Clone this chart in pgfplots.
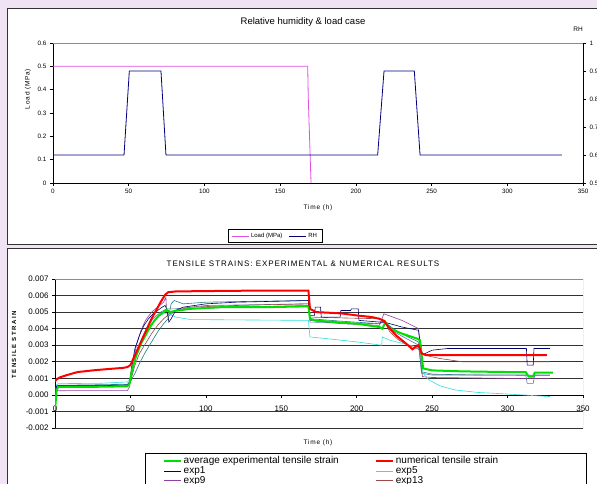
\documentclass[border=0pt]{standalone}
\usepackage{pgfplots}
\pgfplotsset{compat=1.18}
\usepackage{fontspec}
\setmainfont{Liberation Sans}
\newfontfamily\spaced[LetterSpace=12]{Liberation Sans}
\newfontfamily\widespaced[LetterSpace=25]{Liberation Sans}
\definecolor{panelbg}{HTML}{F0E4F4}
\definecolor{loadmag}{HTML}{E050E0}
\definecolor{rhnavy}{HTML}{000080}
\definecolor{avggreen}{HTML}{00E000}
\definecolor{numred}{HTML}{FF0000}
\definecolor{expone}{HTML}{000070}
\definecolor{expfive}{HTML}{30E0E0}
\definecolor{expnine}{HTML}{9040A0}
\definecolor{expthirteen}{HTML}{A04848}
\definecolor{expteal}{HTML}{208080}
\definecolor{expsteel}{HTML}{5878A8}
\begin{document}
\begin{tikzpicture}[x=1pt,y=1pt]
\path[use as bounding box] (0,0) rectangle (597,484);
\clip (0,0) rectangle (597,484);
\fill[panelbg] (0,0) rectangle (597,484);
% chart panels
\filldraw[fill=white,draw=black!80,line width=0.9pt] (7.5,240) rectangle (605,476);
\filldraw[fill=white,draw=black!80,line width=0.9pt] (7.5,-20) rectangle (605,236);

% ---------------- load case and relative humidity ----------------
\begin{axis}[
  at={(53pt,301pt)}, anchor=south west, scale only axis,
  width=530pt, height=140pt,
  xmin=0, xmax=350, ymin=0, ymax=0.6,
  axis x line*=bottom, axis y line*=left,
  xtick={0,50,100,150,200,250,300,350},
  ytick={0,0.1,0.2,0.3,0.4,0.5,0.6},
  tick align=outside, major tick length=3pt,
  tick style={black, line width=0.6pt},
  axis line style={black, line width=0.7pt},
  tick label style={font=\fontsize{6.3}{7}\selectfont},
  /pgf/number format/assume math mode=true,
  legend columns=2,
  legend style={at={(0.419,-0.379)}, anchor=center, draw=black, line width=0.6pt,
    font=\fontsize{6}{7}\selectfont, inner xsep=3pt, inner ysep=1.5pt,
    /tikz/every even column/.append style={column sep=4pt}},
]
\addplot[loadmag, line width=0.8pt] coordinates {
  (0,0.5) (168.2,0.5) (168.6,0.36) (170.4,0)
};
\addlegendentry{Load (MPa)}
\addlegendimage{rhnavy, line width=0.8pt}
\addlegendentry{RH}
\draw[black!45, line width=0.6pt] (rel axis cs:0,1) -- (rel axis cs:1,1);
\end{axis}

\begin{axis}[
  at={(53pt,301pt)}, anchor=south west, scale only axis,
  width=530pt, height=140pt,
  xmin=0, xmax=350, ymin=0.5, ymax=1,
  axis y line*=right, axis x line=none,
  ytick={0.5,0.6,0.7,0.8,0.9,1},
  tick align=outside, major tick length=3pt,
  tick style={black, line width=0.6pt},
  axis line style={black, line width=0.7pt},
  tick label style={font=\fontsize{6.3}{7}\selectfont},
  /pgf/number format/assume math mode=true,
]
\addplot[rhnavy, line width=0.8pt] coordinates {
  (0,0.6) (46.9,0.6) (50.4,0.9) (71.3,0.9) (74.6,0.6)
  (214.4,0.6) (218.6,0.9) (238.6,0.9) (242.4,0.6) (336,0.6)
};
\end{axis}

\node[font=\fontsize{9.5}{10}\selectfont] at (303,462) {Relative humidity \& load case};
\node[font=\fontsize{6.5}{7}\selectfont] at (578,455) {RH};
\node[font=\spaced\fontsize{6.5}{7}\selectfont] at (318,276) {Time (h)};
\node[font=\spaced\fontsize{6.5}{7}\selectfont, rotate=90] at (28,395) {Load (MPa)};

% ---------------- tensile strains ----------------
\begin{axis}[
  at={(55pt,56pt)}, anchor=south west, scale only axis,
  width=528pt, height=149pt,
  xmin=0, xmax=350, ymin=-0.002, ymax=0.007,
  axis y line*=left, axis x line*=middle,
  hide obscured x ticks=false,
  xtick={0,50,100,150,200,250,300,350},
  ytick={-0.002,-0.001,0,0.001,0.002,0.003,0.004,0.005,0.006,0.007},
  scaled y ticks=false,
  tick label style={font=\fontsize{8}{9}\selectfont},
  yticklabel style={/pgf/number format/.cd, fixed, fixed zerofill, precision=3},
  xticklabel style={yshift=-4pt, /pgf/number format/.cd, fixed, precision=0},
  ymajorgrids, grid style={black!80, line width=0.7pt},
  tick align=outside, major tick length=3pt,
  tick style={black, line width=0.6pt},
  axis line style={black, line width=0.7pt},
  /pgf/number format/assume math mode=true,
  legend columns=2,
  legend cell align=left,
  legend style={at={(0.2045,-0.188)}, anchor=north west, draw=none, fill=none,
    font=\fontsize{10}{10}\selectfont, inner sep=0pt,
    nodes={inner xsep=1.5pt, inner ysep=0pt, text height=7.6pt, text depth=2.2pt},
    /tikz/every even column/.append style={column sep=35pt}},
]
\draw[black!45, line width=0.7pt] (rel axis cs:0,0) -- (rel axis cs:1,0) -- (rel axis cs:1,1) -- (rel axis cs:0,1);

% exp17
\addplot[expteal, line width=0.6pt, forget plot] coordinates {
  (0,-0.0010) (1,0.00058) (20,0.0006) (48,0.00064) (50,0.0008) (53,0.0013)
  (56,0.0019) (60,0.0026) (64,0.0032) (68,0.0038) (72,0.0043) (75,0.0046)
  (77,0.0055) (79,0.0057) (85,0.0055) (100,0.0056) (130,0.00565) (168,0.0057)
  (169,0.0046) (190,0.00445) (215,0.0043) (218,0.0044) (226,0.0039) (234,0.0035)
  (241,0.0032) (243,0.0014) (250,0.00125) (280,0.0012) (328,0.00118)
};
% exp21
\addplot[expsteel, line width=0.6pt, forget plot] coordinates {
  (0,0) (1,0.00055) (30,0.00056) (48,0.0006) (50,0.0008) (53,0.0022) (57,0.0033)
  (61,0.0041) (65,0.0046) (70,0.0050) (74,0.0052) (80,0.0052) (100,0.0054)
  (168,0.0055) (169,0.0044) (190,0.00435) (215,0.0043) (218,0.0045)
  (225,0.0038) (235,0.0033) (241,0.0030) (243,0.0013) (250,0.0012)
  (312,0.0012) (313,0.0007) (317,0.0007) (318,0.0012) (328,0.0012)
};
% exp13
\addplot[expthirteen, line width=0.6pt, forget plot] coordinates {
  (0,0) (1,0.0005) (30,0.00052) (48,0.00055) (50,0.0008) (53,0.0018) (56,0.0025)
  (60,0.0031) (64,0.0037) (68,0.0042) (72,0.0046) (76,0.0049) (80,0.0051)
  (90,0.0053) (120,0.0054) (168,0.0055) (169,0.0047) (190,0.00465) (215,0.0046)
  (218,0.0045) (222,0.0038) (228,0.0033) (234,0.0030) (240,0.0028) (242,0.0027)
  (245,0.0024) (255,0.0022) (270,0.0020) (328,0.0020)
};
% exp9
\addplot[expnine, line width=0.6pt, forget plot] coordinates {
  (0,0) (1,0.00025) (20,0.00026) (48,0.00026) (49.5,0.0005) (51,0.0017)
  (54,0.0030) (57,0.0039) (60,0.0045) (64,0.0050) (68,0.0053) (72,0.0056)
  (73.5,0.0059) (74,0.0050) (76,0.0048) (80,0.0051) (90,0.0052) (120,0.0053)
  (168,0.0054) (169,0.0045) (190,0.0043) (215,0.0042) (218,0.0049) (230,0.0045)
  (241,0.0040) (243.5,0.0011) (250,0.00105) (300,0.0010) (328,0.0010)
};
% exp5
\addplot[expfive, line width=0.6pt, forget plot] coordinates {
  (0,0) (1,0.0006) (2,0.00068) (30,0.0007) (48,0.00078) (49.5,0.0009)
  (51,0.0016) (54,0.0026) (57,0.0033) (60,0.0038) (63,0.0042) (66,0.0045)
  (69,0.0048) (72,0.0049) (75,0.0049) (80,0.0047) (90,0.00455) (168,0.0045)
  (169,0.0035) (180,0.0034) (200,0.0032) (216.5,0.0030) (217,0.0035)
  (222,0.0033) (240,0.0029) (242,0.0027) (244,0.0013) (248,0.0009)
  (255,0.00055) (265,0.0003) (280,0.00015) (300,0.00005) (328,-0.0001)
};
% exp1
\addplot[expone, line width=0.6pt, forget plot] coordinates {
  (0,0) (1,0.0005) (2,0.00055) (30,0.00055) (48,0.0006) (49.5,0.0008)
  (51,0.0018) (53,0.0028) (56,0.0036) (59,0.0042) (62,0.0046) (65,0.0049)
  (68,0.0051) (71,0.0053) (73,0.0054) (74,0.0052) (75.5,0.0044) (77,0.0046)
  (80,0.0051) (85,0.0053) (100,0.0055) (120,0.0056) (168,0.0057) (169,0.0048)
  (172,0.0048) (172.5,0.0053) (176,0.0053) (176.5,0.0047) (189,0.0047)
  (189.5,0.0051) (196,0.0051) (196.5,0.0052) (201,0.0052) (201.5,0.0045)
  (215,0.0044) (218,0.0044) (230,0.0041) (241,0.0039) (243,0.0024)
  (250,0.0027) (260,0.0028) (312.5,0.0028) (313,0.0018) (317,0.0018)
  (317.5,0.0028) (328,0.0028)
};
% average experimental tensile strain
\addplot[avggreen, line width=2pt, forget plot] coordinates {
  (0,-0.0009) (1,0.0002) (2,0.00048) (20,0.00048) (35,0.0005) (48,0.00052)
  (49.5,0.0007) (51,0.0015) (54,0.0024) (57,0.0031) (60,0.0036) (63,0.0041)
  (66,0.0045) (69,0.0048) (72,0.0050) (74,0.00515) (76,0.0050) (80,0.00508)
  (90,0.0052) (110,0.0053) (140,0.0053) (168,0.00535) (169,0.0046) (172,0.0045)
  (185,0.0044) (200,0.0043) (215,0.0041) (217,0.0040) (219,0.0044) (222,0.0040)
  (230,0.0037) (240,0.0034) (242,0.0033) (244,0.0016) (250,0.00148)
  (270,0.00142) (300,0.00138) (312,0.00138) (314,0.0011) (317,0.0011)
  (318,0.00135) (330,0.00135)
};
% numerical tensile strain
\addplot[numred, line width=2pt, forget plot] coordinates {
  (0,0.0008) (0.5,0.0009) (3,0.00105) (8,0.0012) (15,0.00138) (25,0.00148)
  (35,0.00156) (45,0.00163) (48,0.00168) (50,0.0018) (52,0.0022) (55,0.0028)
  (58,0.0034) (61,0.0040) (64,0.0046) (67,0.0051) (70,0.0056) (73,0.00605)
  (75,0.0062) (80,0.00625) (110,0.00628) (135,0.0063) (168,0.0063) (169,0.0052)
  (173,0.0050) (180,0.00497) (190,0.00492) (200,0.0048) (210,0.0047)
  (215,0.0046) (218,0.00448) (222,0.0040) (226,0.0036) (230,0.0033)
  (234,0.0030) (237,0.00275) (239,0.0029) (241,0.0030) (243,0.0025)
  (246,0.0024) (260,0.0024) (300,0.0024) (326,0.0024)
};

\addlegendimage{avggreen, line width=2pt}
\addlegendentry{average experimental tensile strain}
\addlegendimage{numred, line width=2pt}
\addlegendentry{numerical tensile strain}
\addlegendimage{expone, line width=0.6pt}
\addlegendentry{exp1}
\addlegendimage{expfive, line width=0.6pt}
\addlegendentry{exp5}
\addlegendimage{expnine, line width=0.6pt}
\addlegendentry{exp9}
\addlegendimage{expthirteen, line width=0.6pt}
\addlegendentry{exp13}
\end{axis}

\node[font=\spaced\fontsize{8}{9}\selectfont] at (303,220) {TENSILE STRAINS: EXPERIMENTAL \& NUMERICAL RESULTS};
\node[font=\widespaced\bfseries\fontsize{6}{7}\selectfont, rotate=90] at (14,139) {TENSILE STRAIN};
\node[font=\spaced\fontsize{6.5}{7}\selectfont] at (318,41) {Time (h)};
\draw[black, line width=0.8pt] (145,31) rectangle (586,-20);
\end{tikzpicture}
\end{document}
